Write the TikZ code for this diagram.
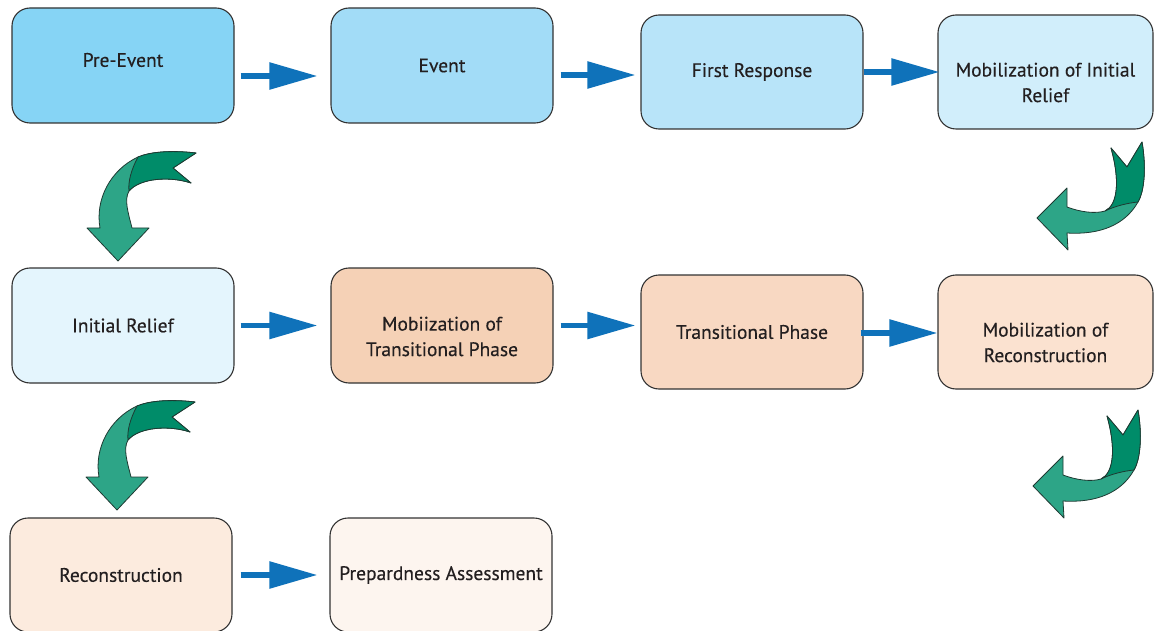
\documentclass[tikz,border=0pt]{standalone}
\usepackage{fontspec}
\setmainfont[FakeBold=0.3]{PT Sans}
\usetikzlibrary{arrows.meta,calc}
\definecolor{ink}{HTML}{231F20}
\definecolor{boxline}{HTML}{333333}
\definecolor{arrowblue}{HTML}{0F72BA}
\definecolor{glight}{HTML}{2DA587}
\definecolor{gdark}{HTML}{008C69}
\definecolor{gline}{HTML}{1E3A32}
\definecolor{cA}{HTML}{86D4F5}
\definecolor{cB}{HTML}{A2DCF7}
\definecolor{cC}{HTML}{B8E4F9}
\definecolor{cD}{HTML}{D1EEFB}
\definecolor{cE}{HTML}{E4F5FD}
\definecolor{cF}{HTML}{F5D1B6}
\definecolor{cG}{HTML}{F8D8C2}
\definecolor{cH}{HTML}{FBE2D0}
\definecolor{cI}{HTML}{FCEBDE}
\definecolor{cJ}{HTML}{FDF5EF}
\tikzset{
  box/.style={draw=boxline, line width=1.1pt, rounded corners=18pt,
    minimum width=222pt, minimum height=115pt, inner sep=0pt},
  txt/.style={text=ink, font=\fontsize{19.5}{25.5}\selectfont, align=center},
  barrow/.style={draw=arrowblue, line width=5.5pt, -{Triangle[length=48pt,width=26pt]}},
  gshape/.style={draw=gline, line width=0.8pt, line join=round},
  curlA/.pic={
    \path[gshape, fill=glight] (118,261) -- (149,228) -- (132,228)
      .. controls (128,212) and (124,200) .. (129,191)
      .. controls (140,178) and (170,176) .. (191,183)
      -- (173,168) -- (196,153)
      .. controls (170,150) and (150,152) .. (138,157)
      .. controls (110,170) and (95,200) .. (100,228)
      -- (87,228) -- cycle;
    \path[gshape, fill=gdark] (138,157)
      .. controls (131,170) and (128,182) .. (129,191)
      .. controls (140,178) and (170,176) .. (191,183)
      -- (173,168) -- (196,153)
      .. controls (170,150) and (150,152) .. (138,157) -- cycle;
  },
  curlB/.pic={
    \path[gshape, fill=glight] (1037,218) -- (1067,188) -- (1067,207)
      .. controls (1080,212) and (1095,214) .. (1105,211)
      .. controls (1118,205) and (1120,180) .. (1111,148)
      -- (1127,167) -- (1142,142)
      .. controls (1146,165) and (1145,190) .. (1138,202)
      .. controls (1125,225) and (1100,235) .. (1067,233)
      -- (1068,250) -- cycle;
    \path[gshape, fill=gdark] (1105,211)
      .. controls (1118,205) and (1120,180) .. (1111,148)
      -- (1127,167) -- (1142,142)
      .. controls (1146,165) and (1145,190) .. (1138,202)
      .. controls (1128,203) and (1115,206) .. (1105,211) -- cycle;
  }
}
\begin{document}
\begin{tikzpicture}[x=1pt,y=-1pt]
\path[use as bounding box, fill=white] (0,0) rectangle (1154,631);
\clip (0,0) rectangle (1154,631);

% row 1
\node[box, fill=cA, label={[txt,yshift=5.5pt]center:Pre-Event}] (pre) at (123,65.5) {};
\node[box, fill=cB, label={[txt]center:Event}] (event) at (442,65.5) {};
\node[box, fill=cC, minimum height=114pt, label={[txt]center:First Response}] (fr) at (752,72) {};
\node[box, fill=cD, minimum width=215pt, minimum height=114pt,
  label={[txt,yshift=-10.5pt]center:Mobilization of Initial\\Relief}] (mir) at (1045.5,72) {};

% row 2
\node[box, fill=cE, label={[txt]center:Initial Relief}] (ir) at (123,325.5) {};
\node[box, fill=cF, label={[txt,yshift=-11pt]center:Mobiization of\\Transitional Phase}] (mtp) at (442,325.5) {};
\node[box, fill=cG, minimum height=114pt, label={[txt]center:Transitional Phase}] (tp) at (752,332) {};
\node[box, fill=cH, minimum width=215pt, minimum height=114pt,
  label={[txt,yshift=-10.5pt]center:Mobilization of\\Reconstruction}] (mr) at (1045.5,332) {};

% row 3
\node[box, fill=cI, minimum height=114pt, label={[txt]center:Reconstruction}] (rec) at (121,575) {};
\node[box, fill=cJ, minimum height=114pt, label={[txt]center:Prepardness Assessment}] (pa) at (441,575) {};

% straight arrows
\draw[barrow] ([xshift=6pt,yshift=-10.5pt]pre.east) -- ([xshift=-13pt,yshift=-10.5pt]event.west);
\draw[barrow] ([xshift=7pt,yshift=-9.5pt]event.east) -- ([xshift=-5pt,yshift=-3pt]fr.west);
\draw[barrow] (fr.east) -- ([xshift=2pt]mir.west);
\draw[barrow] ([xshift=6pt]ir.east) -- ([xshift=-13pt]mtp.west);
\draw[barrow] ([xshift=7pt]mtp.east) -- ([xshift=-5pt,yshift=6.5pt]tp.west);
\draw[barrow] ([xshift=-3pt,yshift=-1pt]tp.east) -- ([yshift=-1pt]mr.west);
\draw[barrow] ([xshift=8pt]rec.east) -- ([xshift=-12pt]pa.west);

% curved green arrows
\pic at (0,0) {curlA};
\pic at (-1,249) {curlA};
\pic at (0,0) {curlB};
\pic at (-4,268) {curlB};
\end{tikzpicture}
\end{document}
